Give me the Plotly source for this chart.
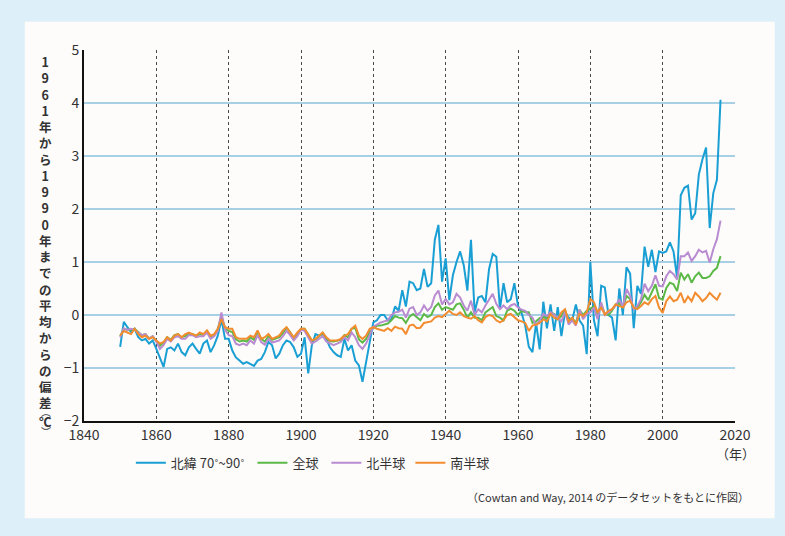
import plotly.graph_objects as go

years = list(range(1850, 2017))

# 北緯 70°~90°
arctic = [
    -0.60, -0.13, -0.23, -0.32, -0.26, -0.42, -0.48, -0.45, -0.54, -0.48,
    -0.64, -0.80, -0.98, -0.64, -0.61, -0.67, -0.54, -0.70, -0.76, -0.61,
    -0.54, -0.64, -0.73, -0.54, -0.48, -0.70, -0.57, -0.39, -0.08, -0.45,
    -0.45, -0.67, -0.80, -0.86, -0.92, -0.89, -0.92, -0.96, -0.86, -0.83,
    -0.70, -0.51, -0.57, -0.82, -0.73, -0.57, -0.48, -0.51, -0.61, -0.79,
    -0.73, -0.42, -1.10, -0.57, -0.36, -0.39, -0.36, -0.45, -0.61, -0.70,
    -0.76, -0.79, -0.45, -0.67, -0.57, -0.86, -0.95, -1.26, -0.89, -0.51,
    -0.14, -0.10, 0.00, 0.00, -0.10, -0.08, 0.16, 0.08, 0.47, 0.16,
    0.63, 0.60, 0.47, 0.50, 0.87, 0.53, 0.60, 1.42, 1.70, 0.63,
    1.07, 0.28, 0.75, 1.00, 1.20, 0.94, 0.46, 1.42, 0.05, 0.33,
    0.36, 0.24, 0.87, 1.15, 1.10, 0.11, 0.60, 0.24, 0.30, 0.60,
    0.17, 0.04, -0.20, -0.60, -0.70, -0.15, -0.65, 0.25, -0.25, 0.20,
    -0.30, 0.15, -0.40, 0.05, -0.05, -0.10, 0.20, -0.10, -0.20, -0.74,
    1.00, -0.10, -0.40, 0.55, 0.52, 0.00, -0.05, -0.48, 0.50, 0.00,
    0.90, 0.78, -0.25, 0.55, 0.40, 1.29, 0.91, 1.23, 0.81, 1.20,
    1.17, 1.20, 1.37, 1.20, 0.70, 2.26, 2.40, 2.44, 1.80, 1.92,
    2.65, 2.94, 3.16, 1.64, 2.30, 2.55, 4.06,
]

# 全球
globe = [
    -0.40, -0.26, -0.28, -0.28, -0.26, -0.32, -0.38, -0.36, -0.44, -0.40,
    -0.48, -0.58, -0.52, -0.42, -0.47, -0.38, -0.36, -0.42, -0.40, -0.36,
    -0.36, -0.40, -0.36, -0.38, -0.31, -0.42, -0.38, -0.26, -0.02, -0.26,
    -0.30, -0.32, -0.46, -0.50, -0.48, -0.50, -0.42, -0.47, -0.32, -0.45,
    -0.50, -0.40, -0.47, -0.45, -0.42, -0.34, -0.24, -0.32, -0.44, -0.36,
    -0.26, -0.26, -0.36, -0.48, -0.46, -0.40, -0.34, -0.44, -0.49, -0.50,
    -0.49, -0.47, -0.38, -0.42, -0.26, -0.24, -0.46, -0.52, -0.45, -0.32,
    -0.25, -0.20, -0.20, -0.18, -0.16, -0.10, -0.02, -0.05, -0.06, -0.15,
    -0.03, 0.02, -0.05, -0.10, 0.02, -0.04, 0.00, 0.15, 0.22, 0.10,
    0.15, 0.12, 0.10, 0.20, 0.22, 0.10, -0.05, 0.05, -0.05, -0.05,
    -0.10, 0.05, 0.10, 0.15, -0.02, -0.05, -0.10, 0.08, 0.12, 0.08,
    0.00, 0.08, 0.05, 0.05, -0.15, -0.12, -0.06, -0.04, -0.06, 0.05,
    0.02, -0.08, -0.02, 0.10, -0.12, -0.06, -0.15, 0.10, 0.00, 0.08,
    0.12, 0.16, 0.02, 0.20, 0.02, 0.00, 0.08, 0.20, 0.22, 0.14,
    0.36, 0.30, 0.12, 0.14, 0.24, 0.38, 0.28, 0.44, 0.58, 0.32,
    0.29, 0.51, 0.61, 0.58, 0.45, 0.80, 0.67, 0.77, 0.61, 0.73,
    0.80, 0.70, 0.70, 0.73, 0.83, 0.89, 1.11,
]

# 北半球
north = [
    -0.42, -0.25, -0.28, -0.26, -0.28, -0.33, -0.38, -0.36, -0.45, -0.40,
    -0.50, -0.64, -0.57, -0.45, -0.50, -0.42, -0.40, -0.45, -0.45, -0.38,
    -0.38, -0.42, -0.40, -0.40, -0.33, -0.45, -0.40, -0.30, 0.05, -0.28,
    -0.38, -0.40, -0.54, -0.57, -0.54, -0.57, -0.48, -0.54, -0.38, -0.51,
    -0.56, -0.45, -0.52, -0.50, -0.48, -0.40, -0.30, -0.38, -0.48, -0.40,
    -0.28, -0.30, -0.42, -0.54, -0.50, -0.45, -0.40, -0.50, -0.54, -0.57,
    -0.54, -0.51, -0.42, -0.48, -0.33, -0.42, -0.57, -0.64, -0.54, -0.38,
    -0.22, -0.18, -0.14, -0.12, -0.10, 0.00, 0.05, 0.06, 0.10, -0.05,
    0.12, 0.15, 0.00, 0.05, 0.18, 0.08, 0.15, 0.37, 0.46, 0.20,
    0.30, 0.20, 0.24, 0.40, 0.33, 0.18, 0.08, 0.27, 0.00, 0.11,
    0.05, 0.18, 0.30, 0.40, 0.21, 0.11, 0.18, 0.11, 0.18, 0.21,
    0.14, 0.10, 0.08, 0.00, -0.05, -0.20, -0.10, 0.02, -0.02, 0.05,
    0.01, -0.05, -0.12, 0.06, -0.18, -0.10, -0.20, 0.10, -0.08, 0.02,
    0.05, 0.14, -0.08, 0.24, 0.00, 0.05, 0.11, 0.17, 0.30, 0.15,
    0.49, 0.36, 0.11, 0.17, 0.30, 0.59, 0.45, 0.55, 0.75, 0.55,
    0.54, 0.73, 0.83, 0.77, 0.67, 1.11, 1.11, 1.18, 1.02, 1.11,
    1.23, 1.18, 1.21, 0.99, 1.24, 1.43, 1.78,
]

# 南半球
south = [
    -0.39, -0.30, -0.33, -0.36, -0.26, -0.36, -0.42, -0.39, -0.45, -0.42,
    -0.48, -0.54, -0.51, -0.42, -0.48, -0.39, -0.36, -0.42, -0.36, -0.33,
    -0.36, -0.39, -0.33, -0.36, -0.29, -0.39, -0.36, -0.26, -0.08, -0.23,
    -0.26, -0.26, -0.42, -0.45, -0.45, -0.45, -0.39, -0.42, -0.29, -0.45,
    -0.42, -0.36, -0.45, -0.42, -0.39, -0.29, -0.23, -0.33, -0.42, -0.33,
    -0.26, -0.26, -0.36, -0.48, -0.45, -0.39, -0.33, -0.42, -0.48, -0.48,
    -0.48, -0.45, -0.39, -0.36, -0.26, -0.20, -0.39, -0.45, -0.39, -0.26,
    -0.23, -0.26, -0.28, -0.30, -0.25, -0.30, -0.22, -0.25, -0.26, -0.36,
    -0.20, -0.18, -0.25, -0.24, -0.15, -0.14, -0.12, -0.05, -0.02, -0.04,
    0.02, 0.08, 0.02, 0.00, 0.05, -0.02, -0.05, -0.07, -0.02, -0.10,
    -0.14, -0.04, 0.00, -0.02, -0.10, -0.14, -0.10, 0.00, 0.02, -0.05,
    -0.10, -0.12, -0.15, -0.30, -0.20, -0.18, -0.15, -0.08, -0.12, 0.02,
    -0.05, -0.08, 0.05, 0.11, -0.12, -0.05, -0.18, 0.02, -0.02, 0.05,
    0.30, 0.24, 0.05, 0.14, 0.01, 0.08, 0.11, 0.20, 0.17, 0.14,
    0.24, 0.27, 0.14, 0.11, 0.17, 0.24, 0.20, 0.30, 0.36, 0.14,
    0.04, 0.26, 0.35, 0.26, 0.29, 0.42, 0.23, 0.35, 0.26, 0.42,
    0.35, 0.26, 0.32, 0.42, 0.35, 0.29, 0.42,
]

# legend names (a trailing space only widens the legend gap)
series = [
    ("北緯 70˚~90˚ ", arctic, "#1a9fd4"),
    ("全球 ", globe, "#5cb947"),
    ("北半球", north, "#b98bd0"),
    ("南半球", south, "#f28c2e"),
]

y_title = "1961年から1990年までの平均からの偏差"

FONT = "Noto Sans CJK JP"
TXT = "#333333"

fig = go.Figure()

# draw order: blue at the back, orange on top
for name, vals, color in series:
    fig.add_trace(
        go.Scatter(
            x=years,
            y=vals,
            mode="lines",
            name=name,
            line=dict(color=color, width=2),
        )
    )

# white inner panel on the light blue page
fig.add_shape(
    type="rect",
    xref="paper", yref="paper",
    x0=-0.091, x1=1.061, y0=-0.262, y1=1.076,
    fillcolor="#fdfcfb",
    line=dict(width=0),
    layer="below",
)

# vertical stacked axis title
fig.add_annotation(
    xref="paper", yref="paper",
    x=-0.059, y=1.0,
    xanchor="center", yanchor="top",
    text="<br>".join(f"<b>{c}</b>" for c in y_title),
    showarrow=False,
    font=dict(family=FONT, size=12.5, color=TXT),
)
fig.add_annotation(
    xref="paper", yref="paper",
    x=-0.059, y=0.0,
    xanchor="center", yanchor="middle",
    text="<b>℃</b>",
    showarrow=False,
    font=dict(family=FONT, size=12.5, color=TXT),
)
for yy, ch in [(0.026, "︵"), (-0.028, "︶")]:
    fig.add_annotation(
        xref="paper", yref="paper",
        x=-0.059, y=yy,
        xanchor="center", yanchor="middle",
        text=ch,
        showarrow=False,
        font=dict(family=FONT, size=10, color=TXT),
    )

fig.add_annotation(
    xref="paper", yref="paper",
    x=1.0, y=-0.088,
    xanchor="center", yanchor="middle",
    text="（年）",
    showarrow=False,
    font=dict(family=FONT, size=13, color=TXT),
)

fig.add_annotation(
    xref="paper", yref="paper",
    x=1.025, y=-0.205,
    xanchor="right", yanchor="middle",
    text="（Cowtan and Way, 2014 のデータセットをもとに作図）",
    showarrow=False,
    font=dict(family=FONT, size=11, color=TXT),
)

fig.update_xaxes(
    range=[1840, 2020],
    tickmode="array",
    tickvals=list(range(1840, 2021, 20)),
    ticks="",
    showgrid=True,
    gridcolor="#4a4a4a",
    griddash="dot",
    gridwidth=1,
    zeroline=False,
    showline=True,
    linecolor="#111111",
    linewidth=2,
    tickfont=dict(family=FONT, size=14, color=TXT),
)

fig.update_yaxes(
    range=[-2, 5],
    tickmode="array",
    tickvals=list(range(-2, 6)),
    ticks="",
    showgrid=True,
    gridcolor="#a8d0e4",
    gridwidth=1.5,
    zeroline=False,
    showline=True,
    linecolor="#111111",
    linewidth=2,
    tickfont=dict(family=FONT, size=14, color=TXT),
)

fig.update_layout(
    width=785,
    height=536,
    margin=dict(l=84, r=50, t=50, b=115),
    paper_bgcolor="#ddeff9",
    plot_bgcolor="#fdfcfb",
    font=dict(family=FONT, color=TXT),
    showlegend=True,
    legend=dict(
        orientation="h",
        x=0.072, y=-0.113,
        xanchor="left", yanchor="middle",
        bgcolor="rgba(0,0,0,0)",
        font=dict(family=FONT, size=13, color=TXT),
        itemwidth=30,
        traceorder="normal",
    ),
)

fig.write_html(
    "out.html",
    config={"displayModeBar": False},
    post_script="document.body.style.margin='0';",
)
